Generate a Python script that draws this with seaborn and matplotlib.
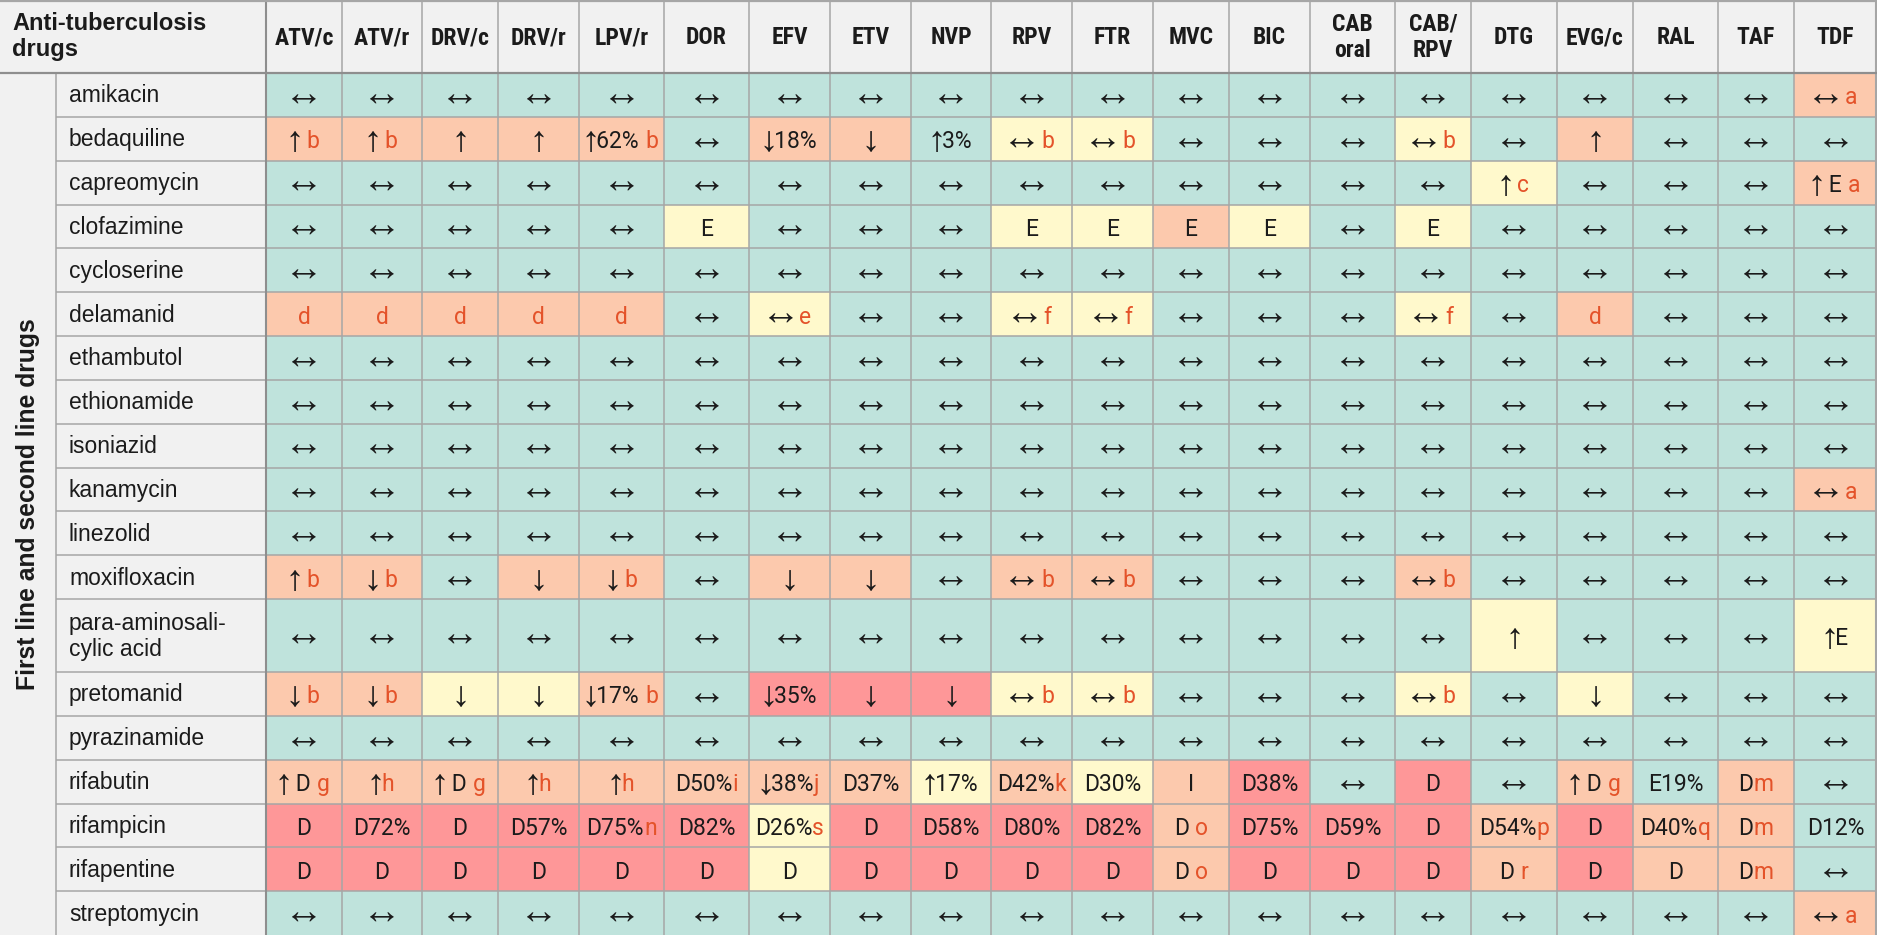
import numpy as np
import matplotlib
matplotlib.use("Agg")
import matplotlib.pyplot as plt
import seaborn as sns
from matplotlib.colors import ListedColormap

N = "↔"

hiv_drugs = ["ATV/c", "ATV/r", "DRV/c", "DRV/r", "LPV/r", "DOR", "EFV", "ETV", "NVP", "RPV",
             "FTR", "MVC", "BIC", "CAB\noral", "CAB/\nRPV", "DTG", "EVG/c", "RAL", "TAF", "TDF"]

tb_drugs = ["amikacin", "bedaquiline", "capreomycin", "clofazimine", "cycloserine",
            "delamanid", "ethambutol", "ethionamide", "isoniazid", "kanamycin", "linezolid",
            "moxifloxacin", "para-aminosali-\ncylic acid", "pretomanid", "pyrazinamide",
            "rifabutin", "rifampicin", "rifapentine", "streptomycin"]

tb_group = "First line and second line drugs"
corner = "Anti-tuberculosis\ndrugs"

# G = no interaction, Y = weak, O = potential interaction, R = do not coadminister
levels = [
    "GGGGGGGGGGGGGGGGGGGO",
    "OOOOOGOOGYYGGGYGOGGG",
    "GGGGGGGGGGGGGGGYGGGO",
    "GGGGGYGGGYYOYGYGGGGG",
    "GGGGGGGGGGGGGGGGGGGG",
    "OOOOOGYGGYYGGGYGOGGG",
    "GGGGGGGGGGGGGGGGGGGG",
    "GGGGGGGGGGGGGGGGGGGG",
    "GGGGGGGGGGGGGGGGGGGG",
    "GGGGGGGGGGGGGGGGGGGO",
    "GGGGGGGGGGGGGGGGGGGG",
    "OOGOOGOOGOOGGGOGGGGG",
    "GGGGGGGGGGGGGGGYGGGY",
    "OOYYOGRRRYYGGGYGYGGG",
    "GGGGGGGGGGGGGGGGGGGG",
    "OOOOOOOOYOYORGRGOGOG",
    "RRRRRRYRRRRORRROROOG",
    "RRRRRRYRRRRORRROROOG",
    "GGGGGGGGGGGGGGGGGGGO",
]

# cell text, the part after "|" is the footnote letter
effects = [
    [N, N, N, N, N, N, N, N, N, N, N, N, N, N, N, N, N, N, N, "↔ |a"],
    ["↑ |b", "↑ |b", "↑", "↑", "↑62% |b", N, "↓18%", "↓", "↑3%", "↔ |b",
     "↔ |b", N, N, N, "↔ |b", N, "↑", N, N, N],
    [N, N, N, N, N, N, N, N, N, N, N, N, N, N, N, "↑ |c", N, N, N, "↑ E |a"],
    [N, N, N, N, N, "E", N, N, N, "E", "E", "E", "E", N, "E", N, N, N, N, N],
    [N, N, N, N, N, N, N, N, N, N, N, N, N, N, N, N, N, N, N, N],
    ["|d", "|d", "|d", "|d", "|d", N, "↔ |e", N, N, "↔ |f",
     "↔ |f", N, N, N, "↔ |f", N, "|d", N, N, N],
    [N, N, N, N, N, N, N, N, N, N, N, N, N, N, N, N, N, N, N, N],
    [N, N, N, N, N, N, N, N, N, N, N, N, N, N, N, N, N, N, N, N],
    [N, N, N, N, N, N, N, N, N, N, N, N, N, N, N, N, N, N, N, N],
    [N, N, N, N, N, N, N, N, N, N, N, N, N, N, N, N, N, N, N, "↔ |a"],
    [N, N, N, N, N, N, N, N, N, N, N, N, N, N, N, N, N, N, N, N],
    ["↑ |b", "↓ |b", N, "↓", "↓ |b", N, "↓", "↓", N, "↔ |b",
     "↔ |b", N, N, N, "↔ |b", N, N, N, N, N],
    [N, N, N, N, N, N, N, N, N, N, N, N, N, N, N, "↑", N, N, N, "↑E"],
    ["↓ |b", "↓ |b", "↓", "↓", "↓17% |b", N, "↓35%", "↓", "↓", "↔ |b",
     "↔ |b", N, N, N, "↔ |b", N, "↓", N, N, N],
    [N, N, N, N, N, N, N, N, N, N, N, N, N, N, N, N, N, N, N, N],
    ["↑ D |g", "↑|h", "↑ D |g", "↑|h", "↑|h", "D50%|i", "↓38%|j", "D37%", "↑17%", "D42%|k",
     "D30%", "I", "D38%", N, "D", N, "↑ D |g", "E19%", "D|m", N],
    ["D", "D72%", "D", "D57%", "D75%|n", "D82%", "D26%|s", "D", "D58%", "D80%",
     "D82%", "D |o", "D75%", "D59%", "D", "D54%|p", "D", "D40%|q", "D|m", "D12%"],
    ["D", "D", "D", "D", "D", "D", "D", "D", "D", "D",
     "D", "D |o", "D", "D", "D", "D |r", "D", "D", "D|m", N],
    [N, N, N, N, N, N, N, N, N, N, N, N, N, N, N, N, N, N, N, "↔ |a"],
]

# layout, in pixels
FIG_W, FIG_H = 1877, 935
GROUP_W, NAME_W = 56, 210
COL_W = [76, 80, 76, 81, 85, 85, 81, 81, 80, 81, 81, 76, 81, 85, 76, 86, 76, 85, 76, 83]
HEADER_UNITS = 5

FILLS = ["#f1f1f1", "#bfe3dc", "#fff9cc", "#fcc9ad", "#fe9798"]
INK = "#1b1b1b"
NOTE = "#e4532a"
THIN = "#a6a6a6"
HEAVY = "#8e8e8e"


def main():
    sns.set_theme(style="white")
    plt.rcParams["font.family"] = ["Liberation Sans", "DejaVu Sans"]
    head_font = ["Roboto Condensed", "Noto Sans Math", "DejaVu Sans"]
    cell_font = ["Roboto", "Noto Sans Math", "DejaVu Sans"]

    codes = np.zeros((len(tb_drugs) + 1, len(hiv_drugs) + 2), dtype=int)
    for i, row in enumerate(levels):
        codes[i + 1, 2:] = ["HGYOR".index(c) for c in row]

    row_units = [HEADER_UNITS] + [5 if "\n" in name else 3 for name in tb_drugs]
    col_px = [GROUP_W, NAME_W] + COL_W
    grid = np.repeat(np.repeat(codes, row_units, axis=0), col_px, axis=1)

    unit = FIG_H / sum(row_units)
    ys = np.concatenate([[0], np.cumsum(row_units)])
    xs = np.concatenate([[0], np.cumsum(col_px)])
    bottom = ys[-1]

    fig = plt.figure(figsize=(FIG_W / 100, FIG_H / 100), dpi=100)
    ax = fig.add_axes([0, 0, 1, 1])
    sns.heatmap(grid, cmap=ListedColormap(FILLS), vmin=-0.5, vmax=len(FILLS) - 0.5,
                cbar=False, xticklabels=False, yticklabels=False, ax=ax)
    ax.set_xlim(0, FIG_W)
    ax.set_ylim(bottom, 0)
    ax.axis("off")

    # grid lines
    ax.hlines(ys[2:-1], GROUP_W, FIG_W, colors=THIN, linewidth=1.1)
    ax.vlines(xs[3:-1], 0, bottom, colors=THIN, linewidth=1.1)
    ax.vlines(GROUP_W, ys[1], bottom, colors=THIN, linewidth=1.1)
    ax.vlines(xs[2], 0, bottom, colors=HEAVY, linewidth=1.5)
    ax.vlines(FIG_W - 1, 0, bottom, colors=THIN, linewidth=1.5)
    ax.hlines(ys[1], 0, FIG_W, colors=HEAVY, linewidth=1.6)
    ax.hlines(1 / unit, 0, FIG_W, colors=THIN, linewidth=1.6)

    # header
    ax.text(12, ys[1] / 2, corner, ha="left", va="center", fontsize=17,
            fontweight="bold", color=INK, linespacing=1.2)
    for j, label in enumerate(hiv_drugs):
        xc = (xs[j + 2] + xs[j + 3]) / 2
        ax.text(xc, ys[1] / 2 + 1 / unit, label, ha="center", va="center", fontsize=17,
                fontweight="bold", color=INK, family=head_font, linespacing=1.2)

    ax.text(GROUP_W / 2, (ys[1] + bottom) / 2, tb_group, rotation=90, ha="center",
            va="center", fontsize=17.8, fontweight="bold", color=INK)

    renderer = fig.canvas.get_renderer()
    for i, name in enumerate(tb_drugs):
        yc = (ys[i + 1] + ys[i + 2]) / 2
        ax.text(GROUP_W + 13, yc + 1 / unit, name, ha="left", va="center", fontsize=16.5,
                color=INK, linespacing=1.15)
        base = yc + 9.5 / unit
        for j, cell in enumerate(effects[i]):
            xc = (xs[j + 2] + xs[j + 3]) / 2
            main_txt, _, note = cell.partition("|")
            gap = 6 if main_txt.endswith(" ") else 0
            main_txt = main_txt.rstrip()
            t1 = ax.text(xc, base, main_txt, ha="left", va="baseline", fontsize=16.5,
                         color=INK, family=cell_font)
            t2 = ax.text(xc, base, note, ha="left", va="baseline", fontsize=16.5,
                         color=NOTE, family=cell_font)
            w1 = t1.get_window_extent(renderer).width if main_txt else 0
            w2 = t2.get_window_extent(renderer).width if note else 0
            left = xc - (w1 + gap + w2) / 2
            t1.set_x(left)
            t2.set_x(left + w1 + gap)

    fig.savefig("out.png", dpi=100)


if __name__ == "__main__":
    main()
